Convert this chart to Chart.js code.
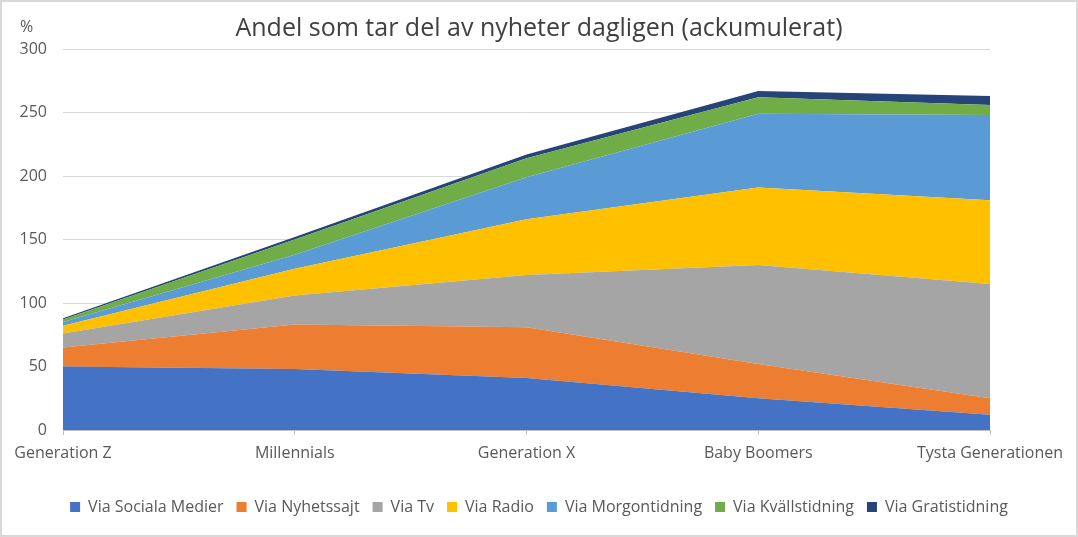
<!DOCTYPE html>
<html>
<head>
<meta charset="utf-8">
<script src="https://cdn.jsdelivr.net/npm/chart.js@4"></script>
<style>
  html, body { margin: 0; padding: 0; background: #fff; }
  #wrap { position: relative; width: 1074px; height: 533px; border: 2px solid #d9d9d9; }
</style>
</head>
<body>
<div id="wrap"><canvas id="myChart"></canvas></div>
<script>
const labels = ['Generation Z', 'Millennials', 'Generation X', 'Baby Boomers', 'Tysta Generationen'];

const sociala     = [50, 48, 41, 25, 12];
const nyhetssajt  = [15, 35, 40, 27, 13];
const tv          = [11, 23, 41, 78, 90];
const radio       = [6, 21, 44, 61, 66];
const morgon      = [3, 11, 33, 58, 67];
const kvalls      = [2, 12, 15, 13, 8];
const gratis      = [1, 2, 3, 5, 7];

const yTicks = [0, 50, 100, 150, 200, 250, 300];

const titleText = 'Andel som tar del av nyheter dagligen (ackumulerat)';

function area(label, values, color, first) {
  return {
    label: label,
    data: values,
    backgroundColor: color,
    borderColor: color,
    borderWidth: 0,
    pointRadius: 0,
    pointHoverRadius: 0,
    tension: 0,
    fill: first ? 'origin' : '-1'
  };
}

// title and "%" unit drawn over the full canvas width
const headerText = {
  id: 'headerText',
  afterDraw(chart) {
    const c = chart.ctx;
    c.save();
    c.fillStyle = '#404040';
    c.font = '25px "Open Sans"';
    c.textAlign = 'center';
    c.textBaseline = 'middle';
    c.fillText(titleText, chart.width / 2, 27);
    c.fillStyle = '#595959';
    c.font = '16px "Open Sans"';
    c.textAlign = 'left';
    c.fillText('%', 18, 25);
    c.restore();
  }
};

const data = {
  labels: labels,
  datasets: [
    area('Via Sociala Medier', sociala, '#4472c4', true),
    area('Via Nyhetssajt', nyhetssajt, '#ed7d31'),
    area('Via Tv', tv, '#a5a5a5'),
    area('Via Radio', radio, '#ffc000'),
    area('Via Morgontidning', morgon, '#5b9bd5'),
    area('Via Kvällstidning', kvalls, '#70ad47'),
    area('Via Gratistidning', gratis, '#264478')
  ]
};

const config = {
  type: 'line',
  data: data,
  plugins: [headerText],
  options: {
    responsive: true,
    maintainAspectRatio: false,
    animation: false,
    layout: { padding: { left: 0, right: 0, top: 47, bottom: 10 } },
    plugins: {
      legend: {
        position: 'bottom',
        labels: {
          boxWidth: 10,
          boxHeight: 10,
          color: '#595959',
          font: { family: 'Open Sans', size: 16 },
          padding: 13
        }
      },
      tooltip: { enabled: false }
    },
    scales: {
      x: {
        offset: false,
        afterFit(scale) { scale.height = 56; },
        grid: { display: true, drawOnChartArea: false, drawTicks: true, tickLength: 5, color: '#bfbfbf' },
        border: { color: '#bfbfbf' },
        ticks: {
          color: '#595959',
          font: { family: 'Open Sans', size: 16 },
          maxRotation: 0,
          autoSkip: false,
          padding: 9
        }
      },
      y: {
        stacked: true,
        min: 0,
        max: 300,
        afterFit(scale) { scale.width = 61; },
        afterBuildTicks(scale) { scale.ticks = yTicks.map(v => ({ value: v })); },
        grid: { color: '#d9d9d9', drawTicks: false },
        border: { display: false },
        ticks: {
          color: '#595959',
          font: { family: 'Open Sans', size: 16 },
          padding: 16
        }
      },
      yRight: {
        type: 'linear',
        position: 'right',
        min: 0,
        max: 300,
        afterFit(scale) { scale.width = 86; },
        grid: { display: false },
        border: { display: false },
        ticks: { display: false }
      }
    }
  }
};

const myChart = new Chart(document.getElementById('myChart'), config);
</script>
</body>
</html>
